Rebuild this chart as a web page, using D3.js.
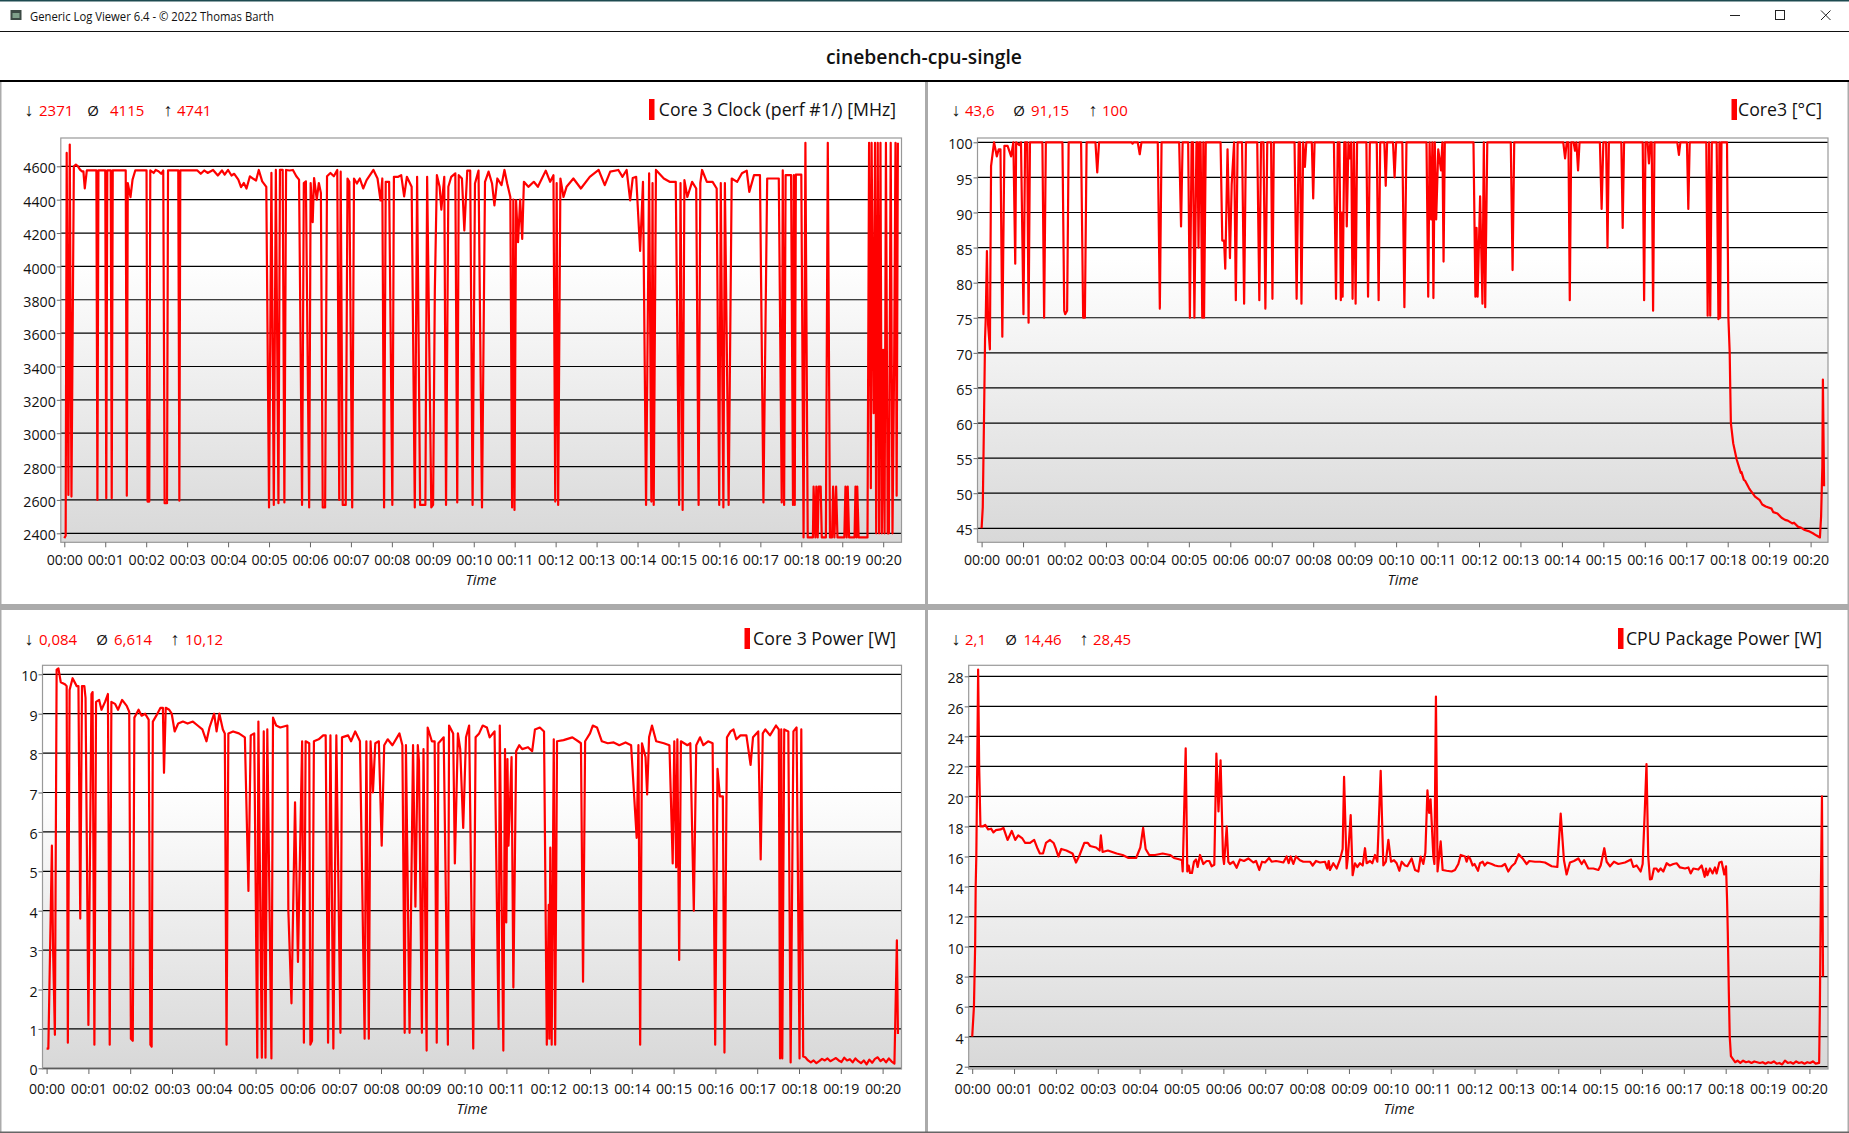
<!DOCTYPE html>
<html><head><meta charset="utf-8">
<script src="https://cdn.jsdelivr.net/npm/d3@7"></script>
<style>
html,body{margin:0;padding:0;background:#fff;overflow:hidden}
svg{display:block}
text{font-family:"Open Sans",sans-serif;fill:#111}
</style></head><body>
<script>
// ---- data: [seconds since start, value] ----
const tickLabels = ["00:00","00:01","00:02","00:03","00:04","00:05","00:06","00:07","00:08","00:09","00:10","00:11","00:12","00:13","00:14","00:15","00:16","00:17","00:18","00:19","00:20"];
const tickSeconds = [0,60,120,180,240,300,360,420,480,540,600,660,720,780,840,900,960,1020,1080,1140,1200];
const clockTicks = [2400,2600,2800,3000,3200,3400,3600,3800,4000,4200,4400,4600];
const tempTicks = [45,50,55,60,65,70,75,80,85,90,95,100];
const corePowerTicks = [0,1,2,3,4,5,6,7,8,9,10];
const packageTicks = [2,4,6,8,10,12,14,16,18,20,22,24,26,28];

const clockReadings = [[0,2371],[2,2385],[3.5,4680],[6,2630],[8,4730],[10.5,2620],[14,4600],[17,4610],[20,4600],[23,4580],[26,4570],[28,4570],[30,4467],[33,4575],[40,4575],[47,4575],[48.5,2600],[50,4575],[60,4575],[61.5,2610],[63,4575],[68,4575],[69.5,2610],[71,4575],[90,4575],[91.6,2625],[93,4500],[97,4415],[100,4520],[104,4575],[120.5,4575],[122,2590],[124.5,2590],[126,4575],[131,4560],[134,4578],[138,4570],[142,4555],[145,4575],[147,2580],[150.5,2580],[152,4575],[167,4575],[168.6,2595],[170,4575],[185,4575],[195,4575],[200,4555],[205,4575],[210,4560],[218,4578],[225,4545],[231,4575],[235,4550],[240,4578],[245,4545],[249,4555],[255,4520],[259,4475],[263,4500],[267,4467],[272,4540],[277,4525],[281,4515],[285,4578],[290,4510],[296,4477],[300,2555],[303.5,4560],[307,2570],[310,4578],[313.8,2580],[316,4578],[320,4578],[322.5,2585],[325,4578],[330,4575],[335,4578],[340,4540],[344,4520],[348.4,2570],[351,4500],[354,4510],[358.8,2555],[361,4500],[364,4265],[366,4530],[370,4400],[373,4500],[376,4440],[378.7,2555],[382.2,2555],[385,4540],[390,4560],[395,4540],[400,4578],[402.9,2600],[405,4568],[408,2570],[412.4,2570],[415,4527],[417.7,4507],[421.9,2555],[424.5,4527],[428.8,4497],[433,4527],[438,4467],[443,4517],[453,4578],[459,4527],[463.4,4395],[466,4527],[468.6,2555],[471,4507],[476,4507],[480.7,2570],[483,4537],[489.4,4537],[493.7,4547],[498,4420],[502,4537],[509,4477],[513.6,2555],[517,4537],[521.4,2570],[529.1,2570],[531.7,4537],[537.8,2555],[540.4,2570],[543,3860],[546,4547],[550,4477],[552.5,4340],[556.8,4537],[559.4,2570],[562.8,4477],[567,4537],[573,4558],[575.8,2585],[578,4547],[582.7,4527],[586.2,4215],[590.5,4574],[594.8,4574],[598.3,2570],[601.8,4497],[607,4574],[612.1,2555],[616.5,4507],[621.7,4568],[626.8,4497],[630.3,4365],[634.6,4527],[640.7,4487],[645,4578],[649,4497],[653.6,4416],[656.2,2555],[658,4400],[659.7,2540],[662,4396],[664.9,4145],[668,4400],[671,4165],[673.5,4507],[680,4477],[688,4507],[694,4477],[705.5,4574],[712,4507],[716.8,4547],[719.4,2590],[721.5,4500],[723.7,2570],[727,4527],[731.5,4416],[736,4477],[746,4527],[757,4467],[770,4537],[783,4578],[792,4487],[800,4568],[811.9,4578],[818,4537],[824,4578],[829.2,4396],[833,4530],[838,4537],[843.8,4093],[848,4507],[852.5,2570],[857,4558],[860.3,2590],[862,4500],[863.7,2570],[867,4578],[878.5,4527],[887,4507],[896,4507],[900.9,2570],[903,4500],[906.1,2540],[908.7,4517],[913,4416],[920,4507],[926,4467],[929.5,2570],[932,4500],[934.6,4578],[941.6,4507],[950,4507],[956,4467],[959.7,2570],[962,4500],[965.8,2555],[968,4500],[973.5,2570],[978,4527],[986,4507],[993,4558],[1000,4574],[1003.8,4446],[1010.7,4547],[1019.4,4547],[1024.5,2585],[1030,4527],[1038,4527],[1047,4527],[1051.3,2585],[1052.8,4575],[1054.8,2570],[1057,4547],[1065,4547],[1067.8,2570],[1069,4547],[1070.4,2570],[1072,4550],[1080,4550],[1083.3,2375],[1086,4741],[1089.4,2375],[1097,2375],[1098,2680],[1100.6,2375],[1102,2680],[1104,2375],[1105.5,2680],[1108.4,2680],[1110,2375],[1116,2375],[1118.8,4741],[1122,2375],[1125,2375],[1126.6,2680],[1128.5,2375],[1131,2680],[1133,2375],[1143,2375],[1144.7,2680],[1146.5,2375],[1148,2680],[1150,2375],[1158,2375],[1159.4,2680],[1161,2375],[1162,2680],[1164,2375],[1177,2375],[1179.3,4741],[1181.9,2670],[1183,4741],[1186,3120],[1188,4741],[1189.7,2400],[1192,4741],[1194,2400],[1196,4741],[1198,2400],[1200,3500],[1202,2400],[1204,4741],[1206.6,2400],[1208.3,2400],[1211,4741],[1213.6,2400],[1216,3400],[1218,4741],[1219.7,2625],[1221.5,4741]];

const tempReadings = [[0,45],[1.7,48],[3.4,60],[5,72],[6,75],[7.7,84.5],[9.4,74],[12,70.5],[13.7,96.6],[18,100],[22,98],[24.8,99],[27.3,99],[30,72.3],[33,99.5],[37.6,99.5],[42.7,98],[46,100],[48.7,82.7],[50,100],[54.7,99.6],[57,100],[60.6,75.5],[63,100],[66,100],[68,74.3],[70,100],[88,100],[90.5,75],[93,100],[117,100],[119.6,76],[121,75.5],[123.8,76],[126,100],[144,100],[147,75],[149.5,75],[152,100],[164.8,100],[167.4,95.7],[170,100],[217,100],[218.6,99.8],[220,100],[226,100],[228.9,98.3],[231.4,100],[255,100],[258,76.3],[260.5,100],[286,100],[288.7,88],[291,100],[299,100],[301.5,75],[304,100],[306,100],[308,75],[311,100],[312.5,100],[314,85],[315.5,100],[317,100],[319.4,75],[321,100],[322,75],[324.5,100],[343,100],[345.9,100],[348.4,86],[351,86],[352.7,82],[356,99],[359.5,83.5],[362,94],[365.5,100],[368,77.5],[370.6,100],[377,100],[380,77],[382.6,100],[399,100],[402,77.5],[404.5,100],[408,100],[410.8,76.3],[413.5,100],[419,100],[421,77.7],[423,100],[453,100],[456,77.7],[459,100],[461,100],[463,77],[465.5,100],[468,96.5],[470,100],[478,100],[480,92],[482,100],[510,100],[513,77.7],[515.5,100],[518,100],[520,77.5],[521.5,90],[522.6,78],[525,100],[527,100],[528.6,88],[531,100],[533,97.7],[535,100],[537,77.7],[539,100],[541.4,77],[543.5,100],[557,100],[559.4,78],[562,100],[572,100],[574.7,77.5],[577,100],[583,100],[585,93.8],[587,100],[595.5,100],[597.8,95],[600,100],[609,100],[612,76.5],[615,100],[644,100],[646.5,78],[648.5,100],[650.7,89],[652.5,100],[654,77.8],[656,100],[658,89],[661,99],[665,96],[667,100],[668.7,83],[670.5,100],[712,100],[714.8,78],[716.5,87.8],[718,78],[721.6,92.3],[725,77],[727,100],[729,76.5],[732,100],[766,100],[768.6,81.8],[771,100],[842,100],[844.6,97.7],[847,100],[849.5,100],[851.4,77.5],[853.5,100],[857,100],[859,98.8],[861,100],[863.4,96],[865.5,100],[895,100],[897.5,90.5],[900,100],[904,100],[906,85],[908,100],[926,100],[928,87.8],[930,100],[957,100],[959,77.5],[961,100],[964,100],[966,97],[968,100],[970,100],[972,76],[974,100],[1007,100],[1009.4,98.2],[1011.5,100],[1021,100],[1023,90.5],[1025,100],[1049,100],[1051,75.3],[1053,100],[1054.7,75.3],[1057,100],[1064,100],[1066.6,74.8],[1068,100],[1069,75],[1071,100],[1079,100],[1081,75],[1082.9,70],[1083.7,65],[1084.6,60],[1088,57.1],[1093,54.8],[1099,52.9],[1100,53],[1103.4,51.9],[1105,51.8],[1111,50.7],[1113,50.4],[1119.6,49.5],[1126.4,49],[1130,48.4],[1135,48.1],[1143.5,47.8],[1146,47.3],[1152,47.1],[1158,46.5],[1163,46.2],[1167,46.1],[1173.4,45.7],[1176,45.8],[1182,45.2],[1186,45.1],[1190.5,44.8],[1197,44.6],[1203.3,44.3],[1208,44],[1213.5,43.7],[1215.2,46.7],[1217,53.8],[1217.8,66.2],[1219.5,51]];

const corePowerReadings = [[0,.5],[2.5,.5],[5,3],[7.6,5.65],[9.3,3],[11.9,.85],[14.4,10.12],[17,10.15],[20.3,9.8],[26.3,9.75],[28.8,9.7],[30.5,.65],[33,9.6],[37.3,9.9],[43.2,9.7],[45.7,9.7],[48.3,3.8],[50.8,9.7],[54.2,9.7],[55.9,9.4],[60,1.1],[64.4,9.5],[66,9.55],[68.6,.6],[71,9.3],[75.4,9.35],[78.8,9.1],[83.9,9.3],[88,9.5],[90.6,.6],[93,9.3],[98.2,9.25],[102.5,9.1],[108.4,9.35],[115,9.2],[118.6,9.05],[121,.75],[123.7,.7],[126,8.9],[132,9.1],[136.4,8.95],[141.4,9],[146.5,8.85],[149,.6],[150.8,.55],[152.5,8.8],[157.5,8.95],[163.5,9.15],[166.9,9.15],[168.5,7.5],[171,9.15],[176,9.1],[179.6,9],[183.8,8.55],[188.9,8.75],[195.7,8.8],[202.4,8.75],[210,8.8],[216.8,8.7],[223.6,8.6],[229.5,8.3],[233.8,8.65],[240.5,9],[244,8.55],[248,9],[253,8.6],[255.8,8.5],[258.3,.6],[260.9,8.5],[267.7,8.55],[276,8.5],[284.6,8.4],[289.7,4.5],[293,8.45],[298,8.5],[302.4,.27],[304,8.8],[309,.27],[311.7,8.55],[314.2,.27],[316.8,8.6],[322.7,.25],[325,8.9],[329.5,8.7],[335.4,8.65],[345.6,8.7],[347,4],[351.5,1.65],[356.6,6.75],[360.8,2.7],[366.8,8.3],[369.3,.65],[371.8,8.3],[377,8.25],[378.6,.6],[381,.7],[383.7,8.3],[390.5,8.35],[397,8.45],[400.6,8.45],[404,.65],[407.4,8.45],[411.6,.5],[415.9,8.45],[421.8,.9],[424,8.4],[432.8,8.45],[437,8.3],[443,8.55],[449.8,8.3],[456.5,.75],[459,8.3],[462.5,.75],[465,8.3],[468.4,7],[471.8,8.25],[476.9,8.3],[481,5.65],[484.6,8.2],[489.6,8.35],[496.4,8.2],[506.5,8.5],[510.7,8.2],[514,.9],[515.8,8.2],[521,.9],[526,8.2],[529.4,4.1],[532.8,8.2],[534.5,7.8],[538.7,.9],[541,8.1],[545.5,.45],[547,8.65],[553,8.3],[557,8.3],[560,.65],[562.4,8.25],[570,8.4],[576,.6],[577.7,8.7],[583.6,8.5],[586,5.2],[590.4,8.5],[593.7,8.1],[598,6.1],[602,8.4],[606.5,8.7],[612.4,.5],[615.8,8.4],[620.9,8.5],[626,8.7],[632,8.65],[636,8.4],[643,8.55],[648.8,1],[650.5,8.7],[655.6,.45],[658,8.1],[659.8,3.7],[661.5,7.85],[663,5.65],[667.4,7.9],[670,2.05],[674,8.05],[678.4,8.2],[682.7,8.1],[691,8.15],[697,8.05],[701,8.6],[708,8.65],[714,8.55],[718,.6],[720.8,4.15],[721.6,.75],[723,5.6],[725,.6],[728,8.35],[730,.6],[732.7,8.3],[742,8.33],[754.7,8.4],[763,8.3],[767,8.25],[770,2.2],[773,8.3],[780,8.5],[784,8.7],[790,8.65],[797,8.3],[805.5,8.25],[814,8.27],[822,8.2],[831,8.27],[839,8.2],[847,5.85],[849.5,8.2],[852,.6],[854.6,8.25],[859.7,7.9],[862,6.95],[864.8,8.4],[869,8.7],[875,8.3],[886,8.25],[894,8.2],[898.7,5.2],[901,8.3],[903.7,5.1],[905.4,8.35],[908,2.75],[910.5,8.3],[919.8,8.2],[924,8.25],[929,4],[932.5,8.2],[938,8.4],[942.7,8.2],[949.5,8.3],[956,8.25],[959.7,.6],[963,7.6],[966.4,6.9],[970.7,6.9],[973,.4],[976.6,8.4],[981.7,8.55],[986,8.6],[990,8.35],[996,8.45],[1004.5,8.45],[1010.5,7.7],[1014,8.4],[1021.5,8.55],[1025,5.3],[1028,8.5],[1031.7,8.6],[1038.4,8.45],[1047,8.7],[1051,8.6],[1052.8,.25],[1054.5,8.6],[1056,.25],[1058.8,8.6],[1064.7,8.55],[1068,.15],[1072,8.55],[1076.5,8.65],[1080.8,.25],[1083.3,8.6],[1086,.3],[1089,.28],[1093,.2],[1097,.15],[1101,.2],[1105,.13],[1109,.18],[1113,.24],[1117,.2],[1121,.25],[1125,.18],[1129,.22],[1133,.26],[1137,.2],[1141,.16],[1145,.27],[1149,.2],[1153,.23],[1157,.15],[1161,.25],[1165,.18],[1169,.13],[1173,.2],[1177,.1],[1181,.22],[1185,.14],[1189,.24],[1193,.28],[1197,.18],[1201,.24],[1205,.15],[1209,.25],[1213,.17],[1217,.12],[1220.5,3.25],[1222,.87]];

const packageReadings = [[0,4],[2.5,6],[4.2,10],[5,14],[5.9,16],[6.8,20],[8.5,28.45],[10,22],[11.8,18],[15.2,18],[18.6,18.1],[22.8,17.8],[27,17.85],[30.4,17.6],[33.8,17.75],[40.6,17.8],[44.8,17.9],[50.7,17.1],[56.7,17.7],[61.7,17.1],[66,17.4],[71.9,17.2],[76,16.9],[82.9,16.9],[88.8,17.1],[93,16.6],[97,16.2],[101.5,16.2],[105.7,16.9],[111.6,17.1],[116.7,16.9],[120,16.5],[123.5,16],[127.7,16.5],[135,16.4],[143.8,16.2],[148.8,15.6],[154,16.1],[160.7,16.9],[165.8,16.9],[169,16.7],[177.6,16.6],[182.7,16.4],[184.4,17.4],[186.9,16.3],[194.5,16.4],[207,16.2],[215.6,16.1],[224,15.9],[235,15.9],[241,16.6],[245,17.9],[248.6,16.5],[253.7,16.1],[262,16.1],[273,16.2],[283.5,16.1],[289.2,15.9],[297.8,15.8],[300.7,15.75],[301.7,15],[306,23.2],[308.3,15],[310.3,15.4],[312.2,14.9],[315,14.9],[317.9,15.65],[320.8,15.8],[323.2,15.3],[326.5,16.1],[331.3,15.5],[336,15.7],[339.9,15.7],[343.2,15.35],[347,15.45],[350,22.85],[353,19],[356,22.4],[359.5,16],[361,15.5],[364.8,18],[367.1,15.65],[369.5,15.5],[374.3,15.65],[379,15.25],[383.8,15.8],[389.6,15.7],[395.8,15.87],[403,15.6],[406.8,15.7],[411.5,15.1],[415.4,15.65],[419.7,15.6],[425.4,15.9],[429.2,15.65],[435.4,15.7],[441.2,15.65],[446,15.6],[450.7,16],[453.6,15.55],[456.5,16],[460.3,15.5],[464.1,16],[469.8,15.75],[474.6,15.65],[484.2,15.65],[488,15.4],[492.8,15.7],[498.5,15.6],[505.7,15.65],[509,15.2],[511,15.7],[512.8,15.1],[517.6,15.55],[522.4,15.2],[527.2,15.8],[531,16.5],[533,21.3],[536.7,15.2],[538.6,16],[542.5,18.75],[545.3,14.75],[548.7,15.55],[552,15.3],[555.8,15.55],[559.7,15.4],[563,16.55],[565.4,15.55],[570.2,15.7],[573.5,15.55],[577.3,16.1],[580.7,15.65],[585.5,21.7],[589.3,15.4],[593,15.65],[596.5,17.1],[600.3,15.65],[604.6,15.75],[608.4,15.55],[612.2,15.05],[615.6,15.65],[620.4,15.4],[623.7,15.35],[629.9,15.87],[634.7,15.1],[639.5,15],[642.8,16],[646.6,15.5],[649.5,16.25],[652.5,20.4],[655,18.9],[657,19.8],[661,16],[662.5,15.5],[664.7,26.65],[667,15],[671.5,17],[674.3,15.1],[680,15.05],[687.2,15],[692,15.1],[696.8,15.5],[700.2,16.1],[706.4,16],[708.7,15.65],[711.1,16],[713.5,15.87],[717.3,15.4],[720,15.5],[725,15.05],[727.8,15.55],[731.7,15.65],[734.5,15.4],[738.3,15.6],[744.6,15.5],[749.3,15.4],[754.1,15.35],[758.9,15.35],[763.7,15.5],[768.4,15],[773.2,15.35],[778,15.55],[783.3,16.15],[789,15.87],[794.7,15.5],[798.5,15.7],[806.7,15.65],[813.8,15.65],[821,15.6],[830.6,15.35],[838.7,15.3],[843.5,18.85],[848.2,15.75],[852,14.8],[856.8,15.6],[862.6,15.7],[868.8,15.87],[873.6,15.5],[877,15.75],[883.1,15.2],[890.3,15.2],[897.5,15.1],[900.8,15.4],[906,16.55],[909.4,15.65],[914.2,15.35],[919.9,15.65],[926.1,15.5],[935.7,15.6],[944.3,15.8],[947.6,15.3],[952.4,15.4],[958.1,15],[961,15.5],[964,19],[966.5,22.15],[969,16],[971.5,14.47],[974,14.5],[977.2,15.2],[980.5,15.2],[983.5,15],[986.8,15.2],[990.6,15],[995.4,15.55],[1000,15.4],[1005,15.5],[1009.7,15.55],[1014.5,15.27],[1021.7,15.2],[1026.5,15.27],[1029.8,14.87],[1033.6,15.2],[1040.8,15.13],[1045.6,15.4],[1049.9,14.65],[1051.8,15.2],[1053.7,14.75],[1057.5,15.2],[1061.3,14.87],[1064.7,15.27],[1067,14.87],[1070.9,15.6],[1074.2,15.65],[1078,14.8],[1080.5,15.35],[1082,13.1],[1083,11],[1084.5,7],[1085.8,4],[1087.5,2.7],[1089,2.6],[1093.5,2.3],[1097,2.4],[1101,2.25],[1105,2.4],[1109,2.3],[1113,2.35],[1117,2.25],[1121,2.35],[1125,2.3],[1129,2.25],[1133,2.3],[1137,2.2],[1141,2.3],[1145,2.25],[1149,2.35],[1153,2.2],[1157,2.25],[1161,2.15],[1165,2.4],[1169,2.25],[1173,2.3],[1177,2.2],[1181,2.35],[1185,2.25],[1189,2.3],[1193,2.2],[1197,2.3],[1201,2.25],[1205,2.35],[1209,2.2],[1214,2.25],[1215,6],[1216.5,14],[1218,20],[1219.5,8]];

const panelTitles = ["Core 3 Clock (perf #1/) [MHz]","Core3 [°C]","Core 3 Power [W]","CPU Package Power [W]"];
const statMin = ["2371","43,6","0,084","2,1"];
const statAvg = ["4115","91,15","6,614","14,46"];
const statMax = ["4741","100","10,12","28,45"];

// ---- layout ----
const W = 1849, H = 1133;
const layout = [
 {l:60.8,r:901.5,t:138,b:542.3,x0:64.3,x20:883.2,yd:[2400,4600],yr:[533.3,166.3],ticks:clockTicks,data:clockReadings,statY:110,ax:[29,93,168],vx:[39,110,177],rx:649,tx:896,timeX:481,timeY:580,pad:7.5},
 {l:977.5,r:1828,t:138,b:542.3,x0:981.6,x20:1810.6,yd:[45,100],yr:[528.3,142.3],ticks:tempTicks,data:tempReadings,statY:110,ax:[956,1019,1093],vx:[965,1031,1102],rx:1731.5,tx:1822,timeX:1403,timeY:580,pad:7.5},
 {l:42.5,r:901.5,t:665.3,b:1069,x0:46.6,x20:882.6,yd:[0,10],yr:[1068.3,674.3],ticks:corePowerTicks,data:corePowerReadings,statY:639,ax:[29,102,175],vx:[39,114,185],rx:744.5,tx:896,timeX:472,timeY:1109,pad:9.5},
 {l:968.7,r:1828,t:665.3,b:1069,x0:972.2,x20:1809.4,yd:[2,28],yr:[1066.7,676.3],ticks:packageTicks,data:packageReadings,statY:639,ax:[956,1011,1084],vx:[965,1023.5,1093],rx:1618,tx:1822,timeX:1399,timeY:1109,pad:9.5}
];

const svg = d3.select("body").append("svg").attr("width",W).attr("height",H).attr("viewBox",`0 0 ${W} ${H}`);
const defs = svg.append("defs");
const grad = defs.append("linearGradient").attr("id","plotBg").attr("x1",0).attr("y1",0).attr("x2",0).attr("y2",1);
grad.append("stop").attr("offset",0.3).attr("stop-color","#ffffff");
grad.append("stop").attr("offset",1).attr("stop-color","#d8d8d8");

// window chrome
svg.append("rect").attr("width",W).attr("height",H).attr("fill","#fff");
svg.append("rect").attr("x",0).attr("y",0).attr("width",W).attr("height",1.5).attr("fill","#1d4a50");
svg.append("rect").attr("x",0).attr("y",31).attr("width",W).attr("height",1).attr("fill","#111");
svg.append("rect").attr("x",0).attr("y",80).attr("width",W).attr("height",2).attr("fill","#000");
svg.append("rect").attr("x",925).attr("y",82).attr("width",3).attr("height",H-82).attr("fill","#ababab");
svg.append("rect").attr("x",0).attr("y",604).attr("width",W).attr("height",6).attr("fill","#ababab");
svg.append("rect").attr("x",0).attr("y",82).attr("width",1.5).attr("height",H-82).attr("fill","#ababab");
svg.append("rect").attr("x",W-1.5).attr("y",82).attr("width",1.5).attr("height",H-82).attr("fill","#ababab");
svg.append("rect").attr("x",0).attr("y",H-1.5).attr("width",W).attr("height",1.5).attr("fill","#666");
// app icon
svg.append("rect").attr("x",10.5).attr("y",10).attr("width",11).attr("height",10).attr("fill","#3c4a44");
svg.append("rect").attr("x",12.5).attr("y",13).attr("width",7).attr("height",5).attr("fill","#7fa08a");
svg.append("text").attr("x",30).attr("y",20.5).attr("font-size",12).attr("textLength",244).attr("lengthAdjust","spacingAndGlyphs").text("Generic Log Viewer 6.4 - © 2022 Thomas Barth");
// window buttons
svg.append("line").attr("x1",1730).attr("x2",1740).attr("y1",15.5).attr("y2",15.5).attr("stroke","#222");
svg.append("rect").attr("x",1775.5).attr("y",10.5).attr("width",9).attr("height",9).attr("fill","none").attr("stroke","#222");
svg.append("path").attr("d","M1821 10.5L1830.5 20M1830.5 10.5L1821 20").attr("stroke","#222").attr("fill","none");
svg.append("text").attr("x",924).attr("y",63.5).attr("text-anchor","middle").attr("font-size",19.3).attr("font-weight",600).text("cinebench-cpu-single");

layout.forEach((p,i)=>{
  const g = svg.append("g");
  const x = d3.scaleLinear().domain([0,1200]).range([p.x0,p.x20]);
  const y = d3.scaleLinear().domain(p.yd).range(p.yr);
  const cid = "clip"+i;
  defs.append("clipPath").attr("id",cid).append("rect").attr("x",p.l).attr("y",p.t).attr("width",p.r-p.l).attr("height",p.b-p.t);

  g.append("rect").attr("x",p.l).attr("y",p.t).attr("width",p.r-p.l).attr("height",p.b-p.t).attr("fill","url(#plotBg)");
  g.append("g").selectAll("line").data(p.ticks).join("line")
    .attr("x1",p.l).attr("x2",p.r).attr("y1",d=>y(d)).attr("y2",d=>y(d))
    .attr("stroke","#000").attr("stroke-width",1.2);
  g.append("rect").attr("x",p.l).attr("y",p.t).attr("width",p.r-p.l).attr("height",p.b-p.t)
    .attr("fill","none").attr("stroke","#999").attr("stroke-width",1.2);

  const line = d3.line().x(d=>x(d[0])).y(d=>y(d[1]));
  g.append("path").attr("clip-path",`url(#${cid})`).datum(p.data).attr("d",line)
    .attr("fill","none").attr("stroke","#ff0000").attr("stroke-width",2.2).attr("stroke-linejoin","round");

  const ax = g.append("g").attr("transform",`translate(0,${p.b})`)
    .call(d3.axisBottom(x).tickValues(tickSeconds).tickFormat((d,k)=>tickLabels[k]).tickSize(5).tickPadding(p.pad));
  ax.select(".domain").remove();
  ax.selectAll("line").attr("stroke","#666");
  ax.selectAll("text").attr("font-size",14.2).attr("font-family",'"Open Sans",sans-serif').attr("fill","#111");

  const ay = g.append("g").attr("transform",`translate(${p.l},0)`)
    .call(d3.axisLeft(y).tickValues(p.ticks).tickFormat(d3.format("d")).tickSize(4).tickPadding(1));
  ay.select(".domain").remove();
  ay.selectAll("line").attr("stroke","#666");
  ay.selectAll("text").attr("font-size",14.2).attr("font-family",'"Open Sans",sans-serif').attr("fill","#111").attr("dy","0.47em");

  g.append("text").attr("x",p.timeX).attr("y",p.timeY+5).attr("text-anchor","middle").attr("font-size",14.5).attr("font-style","italic").text("Time");

  // stats
  const vals = [statMin[i],statAvg[i],statMax[i]], syms = ["↓","Ø","↑"];
  syms.forEach((s,k)=>{
    g.append("text").attr("x",p.ax[k]).attr("y",p.statY+6).attr("text-anchor","middle").attr("font-size",k===1?15:18).text(s);
    g.append("text").attr("x",p.vx[k]).attr("y",p.statY+6).attr("font-size",15).style("fill","#f00").text(vals[k]);
  });
  // legend
  g.append("rect").attr("x",p.rx).attr("y",p.statY-11).attr("width",5.5).attr("height",21).attr("fill","#f00");
  g.append("text").attr("x",p.tx).attr("y",p.statY+6).attr("text-anchor","end").attr("font-size",17.7).text(panelTitles[i]);
});
</script>
</body></html>
